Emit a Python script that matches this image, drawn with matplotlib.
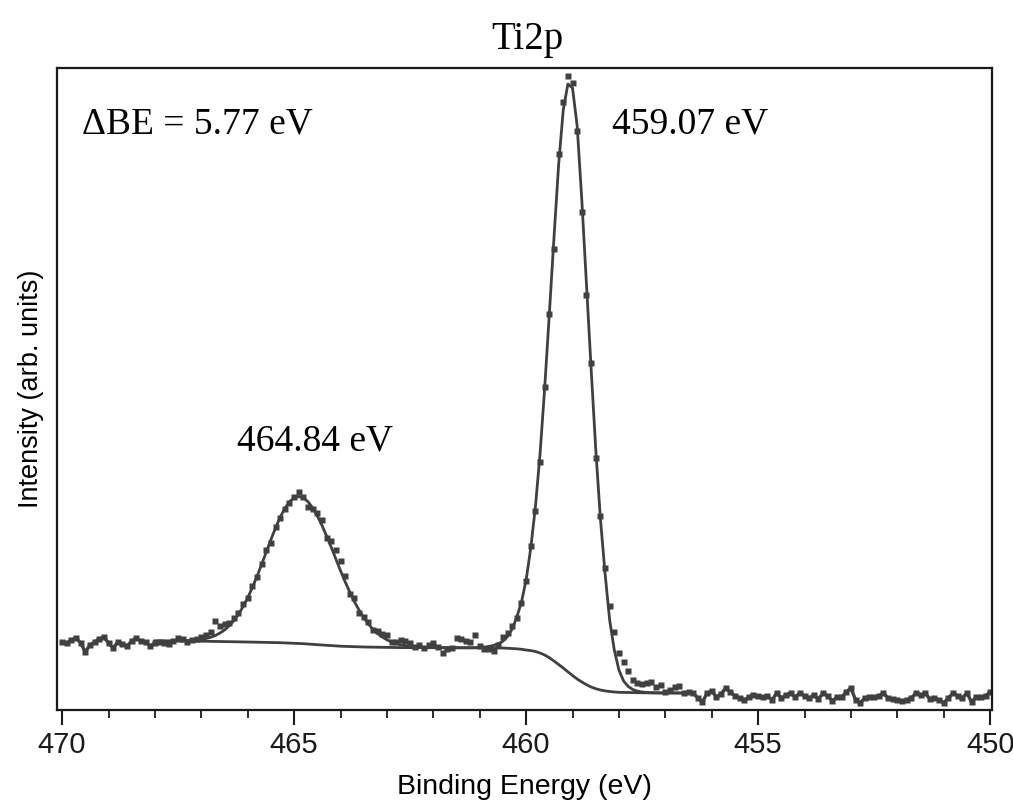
import matplotlib
matplotlib.use('Agg')
import matplotlib.pyplot as plt
from matplotlib.ticker import MultipleLocator

# measured spectrum, 0.1 eV steps from 470.0 down to 450.0 eV (arb. units)
energy_start = 470.0
energy_step = 0.1
intensity = [
    68, 67, 70, 72, 67, 58, 65, 68, 71, 73,
    67, 62, 68, 66, 64, 69, 72, 69, 68, 64,
    67, 68, 67, 66, 69, 72, 71, 68, 70, 71,
    73, 75, 78, 89, 84, 86, 87, 92, 97, 106,
    112, 124, 133, 146, 160, 167, 183, 192, 201, 207,
    213, 218, 213, 203, 201, 197, 190, 172, 169, 160,
    149, 134, 116, 112, 97, 93, 88, 80, 79, 76,
    75, 68, 68, 70, 69, 67, 63, 65, 62, 65,
    67, 63, 57, 61, 62, 72, 71, 69, 68, 75,
    64, 61, 61, 59, 65, 73, 77, 84, 92, 107,
    129, 164, 199, 248, 323, 396, 461, 556, 608, 634,
    627, 579, 498, 415, 347, 252, 194, 142, 104, 78,
    57, 48, 39, 30, 27, 26, 27, 28, 23, 25,
    18, 20, 23, 24, 17, 18, 17, 12, 8, 17,
    19, 13, 16, 22, 18, 14, 12, 10, 13, 15,
    14, 13, 14, 10, 17, 12, 15, 17, 13, 17,
    14, 12, 15, 11, 17, 14, 9, 13, 13, 18,
    22, 10, 7, 12, 13, 13, 14, 17, 12, 11,
    10, 9, 10, 12, 17, 15, 17, 11, 12, 10,
    7, 12, 17, 14, 12, 17, 8, 13, 13, 14,
    18,
]

# fitted envelope (two peaks + Shirley background), 468.0 -> 456.5 eV
fit_start = 468.0
envelope = [
    69.0, 69.0, 69.0, 69.0, 69.1, 69.2, 69.2, 69.4, 69.7, 70.0,
    70.6, 71.5, 72.7, 74.5, 76.9, 80.0, 84.1, 89.2, 95.7, 103.3,
    112.2, 122.4, 133.6, 145.6, 158.0, 170.4, 182.1, 192.7, 201.6, 208.2,
    212.2, 213.5, 212.1, 208.3, 202.1, 194.2, 184.7, 174.0, 162.7, 151.0,
    139.3, 128.2, 117.9, 108.3, 99.9, 92.4, 86.0, 80.7, 76.3, 73.0,
    70.2, 68.1, 66.4, 65.2, 64.3, 63.7, 63.3, 63.0, 62.7, 62.5,
    62.4, 62.3, 62.3, 62.3, 62.3, 62.3, 62.3, 62.3, 62.3, 62.4,
    62.6, 63.0, 63.6, 64.6, 66.2, 68.8, 73.5, 81.0, 93.0, 108.0,
    130.0, 162.0, 203.0, 256.0, 322.0, 396.0, 472.0, 545.0, 600.0, 626.0,
    622.0, 584.0, 510.0, 426.0, 342.0, 261.0, 192.0, 137.0, 90.0, 60.0,
    40.0, 29.0, 23.5, 20.5, 18.8, 18.0, 17.5, 17.2, 17.1, 17.0,
    17.0, 17.0, 17.0, 17.0, 17.0, 17.0,
]

# Shirley background
bg_energy = [468.0, 467.0, 466.0, 465.3, 464.8, 464.4, 464.0, 463.5, 462.7,
             462.0, 460.5, 460.2, 460.1, 460.0, 459.9, 459.8, 459.7, 459.6,
             459.5, 459.4, 459.3, 459.2, 459.1, 459.0, 458.9, 458.8, 458.7,
             458.6, 458.5, 458.4, 458.3, 458.2, 458.1, 458.0, 457.5, 456.5]
bg_values = [69.0, 68.8, 68.0, 67.3, 66.3, 65.0, 63.8, 63.0, 62.4,
             62.3, 62.0, 61.2, 60.7, 60.0, 59.4, 58.5, 57.0, 55.0,
             52.3, 49.0, 45.5, 42.0, 38.2, 34.5, 31.0, 28.0, 25.3,
             23.0, 21.3, 20.0, 19.1, 18.5, 18.0, 17.7, 17.2, 17.0]

energy = [round(energy_start - energy_step * k, 1) for k in range(len(intensity))]
fit_energy = [round(fit_start - energy_step * k, 1) for k in range(len(envelope))]

col = '#404040'

fig = plt.figure(figsize=(10.13, 8.01), dpi=100)
ax = fig.add_axes([57 / 1013, 91 / 801, 935 / 1013, 642 / 801])

# outside the fit window the raw data are drawn as a connected trace
left = [k for k, e in enumerate(energy) if e >= 467.8]
right = [k for k, e in enumerate(energy) if e <= 456.6]
ax.plot([energy[k] for k in left], [intensity[k] for k in left], color=col, lw=2.4)
ax.plot([energy[k] for k in right], [intensity[k] for k in right], color=col, lw=2.4)
ax.plot(energy, intensity, ls='none', marker='s', ms=3.9, color=col, mec='none')

ax.plot(fit_energy, envelope, color=col, lw=2.0)
ax.plot(bg_energy, bg_values, color=col, lw=2.0)

ax.set_xlim(470.11, 449.96)
ax.set_ylim(0, 642)
ax.xaxis.set_major_locator(MultipleLocator(5))
ax.xaxis.set_minor_locator(MultipleLocator(1))
ax.tick_params(axis='x', which='major', direction='out', length=11, width=1.5,
               labelsize=21, pad=4, colors='#1a1a1a')
ax.tick_params(axis='x', which='minor', direction='out', length=6, width=1.3,
               colors='#1a1a1a')
ax.tick_params(axis='y', left=False, labelleft=False)
for s in ax.spines.values():
    s.set_linewidth(1.6)
    s.set_color('#1a1a1a')

for lab in ax.get_xticklabels():
    lab.set_family('Liberation Sans')
ax.set_xlabel('Binding Energy (eV)', family='Liberation Sans', fontsize=20.5, labelpad=11)
ax.set_ylabel('Intensity (arb. units)', family='Liberation Sans', fontsize=19.5, labelpad=9)

serif = 'Liberation Serif'
ax.text(0.027, 0.912, 'ΔBE = 5.77 eV', transform=ax.transAxes, family=serif,
        fontsize=27, va='center', ha='left')
ax.text(0.594, 0.912, '459.07 eV', transform=ax.transAxes, family=serif,
        fontsize=27, va='center', ha='left')
ax.text(0.1925, 0.418, '464.84 eV', transform=ax.transAxes, family=serif,
        fontsize=27, va='center', ha='left')
fig.text(527 / 1013, 1 - 39 / 801, 'Ti2p', family=serif, fontsize=28,
         ha='center', va='center')

fig.savefig('out.png', dpi=100)
